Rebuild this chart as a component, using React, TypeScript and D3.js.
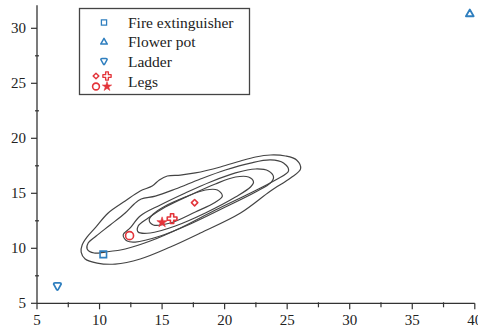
import { useEffect, useRef } from "react";
import * as d3 from "d3";

// axis ticks
const xTicks = [5, 10, 15, 20, 25, 30, 35, 40];
const xMinor = [7.5, 12.5, 17.5, 22.5, 27.5, 32.5, 37.5];
const yTicks = [5, 10, 15, 20, 25, 30];
const yMinor = [7.5, 12.5, 17.5, 22.5, 27.5];

// objects
const fireExtinguisher = [[10.3, 9.45]];
const flowerPot = [[39.6, 31.3]];
const ladder = [[6.63, 6.5]];
const legs = [
  { shape: "circle", x: 12.4, y: 11.15 },
  { shape: "star", x: 15.0, y: 12.36 },
  { shape: "cross", x: 15.8, y: 12.7 },
  { shape: "diamond", x: 17.6, y: 14.15 },
];

// density contours (outer -> inner)
const contour1 = [
  [26.07, 17.21], [25.75, 18.03], [24.87, 18.39], [23.67, 18.48], [22.47, 18.3],
  [21.27, 17.94], [19.66, 17.39], [17.66, 16.85], [16.46, 16.66], [15.42, 16.57],
  [14.78, 16.21], [14.21, 15.66], [13.25, 15.21], [12.05, 14.3], [10.69, 13.21],
  [9.65, 11.85], [9.01, 11.03], [8.61, 10.3], [8.53, 9.66], [8.85, 9.03],
  [9.81, 8.66], [11.25, 8.57], [13.25, 9.03], [15.66, 10.12], [18.06, 11.39],
  [21.27, 13.21], [23.67, 15.21], [25.27, 16.39],
];
const contour2 = [
  [25.11, 17.03], [24.71, 17.75], [23.67, 18.03], [22.07, 17.75], [20.06, 17.12],
  [18.06, 16.3], [16.06, 15.39], [14.46, 14.75], [13.33, 14.48], [12.77, 14.03],
  [12.05, 13.21], [10.85, 12.12], [9.73, 11.12], [9.09, 10.48], [9.01, 9.94],
  [9.57, 9.57], [10.45, 9.66], [12.05, 9.94], [14.05, 10.66], [16.46, 11.85],
  [19.26, 13.48], [22.07, 15.03], [24.07, 16.21],
];
const contour3 = [
  [23.91, 16.48], [23.51, 17.03], [22.47, 17.21], [20.87, 16.85], [18.86, 16.03],
  [16.86, 15.03], [14.86, 13.94], [13.25, 12.94], [12.45, 11.85], [11.89, 11.21],
  [12.21, 10.66], [12.85, 10.57], [14.86, 11.12], [17.26, 12.21], [20.06, 13.75],
  [22.47, 15.12], [23.67, 15.94],
];
const contour4 = [
  [22.31, 16.03], [21.91, 16.48], [20.87, 16.48], [19.26, 15.85], [17.26, 14.85],
  [15.26, 13.75], [13.89, 12.75], [13.09, 12.03], [13.09, 11.48], [14.05, 11.39],
  [16.06, 12.03], [18.46, 13.21], [20.87, 14.66], [22.07, 15.57],
];
const contour5 = [
  [19.82, 14.75], [19.42, 15.3], [18.46, 15.3], [16.86, 14.66], [15.26, 13.85],
  [14.3, 13.12], [13.97, 12.57], [14.3, 12.12], [15.66, 12.3], [17.66, 13.3],
  [19.26, 14.18],
];
const contours = [contour1, contour2, contour3, contour4, contour5];

const legendLabels = ["Fire extinguisher", "Flower pot", "Ladder", "Legs"];

const BLUE = "#2f7fbf";
const RED = "#e3343a";

function App() {
  const ref = useRef<SVGSVGElement>(null);

  useEffect(() => {
    document.body.style.margin = "0";
    const width = 478, height = 331;
    const svg = d3.select(ref.current);
    svg.selectAll("*").remove();

    const x = d3.scaleLinear().domain([5, 40]).range([37, 474.8]);
    const y = d3.scaleLinear().domain([5, 32.1]).range([303.3, 5.2]);

    const font = "'Liberation Serif', 'Times New Roman', serif";

    // contours
    const line = d3.line<number[]>()
      .x(d => x(d[0]))
      .y(d => y(d[1]))
      .curve(d3.curveCatmullRomClosed.alpha(0.5));

    svg.append("g")
      .selectAll("path")
      .data(contours)
      .enter()
      .append("path")
      .attr("d", d => line(d))
      .attr("fill", "none")
      .attr("stroke", "#444")
      .attr("stroke-width", 1.2);

    // axes
    const axisColor = "#333";
    const ax = svg.append("g");
    ax.append("line")
      .attr("x1", x(5)).attr("x2", x(40))
      .attr("y1", y(5)).attr("y2", y(5))
      .attr("stroke", axisColor).attr("stroke-width", 1.3);
    ax.append("line")
      .attr("x1", x(5)).attr("x2", x(5))
      .attr("y1", y(5)).attr("y2", y(32.1))
      .attr("stroke", axisColor).attr("stroke-width", 1.3);

    ax.selectAll(".xt").data(xTicks).enter().append("line")
      .attr("x1", d => x(d)).attr("x2", d => x(d))
      .attr("y1", y(5)).attr("y2", y(5) + 6)
      .attr("stroke", axisColor).attr("stroke-width", 1.2);
    ax.selectAll(".xm").data(xMinor).enter().append("line")
      .attr("x1", d => x(d)).attr("x2", d => x(d))
      .attr("y1", y(5) - 1).attr("y2", y(5) + 4)
      .attr("stroke", axisColor).attr("stroke-width", 1.2);
    ax.selectAll(".yt").data(yTicks).enter().append("line")
      .attr("x1", x(5) - 6).attr("x2", x(5))
      .attr("y1", d => y(d)).attr("y2", d => y(d))
      .attr("stroke", axisColor).attr("stroke-width", 1.2);
    ax.selectAll(".ym").data(yMinor).enter().append("line")
      .attr("x1", x(5) - 2).attr("x2", x(5) + 2)
      .attr("y1", d => y(d)).attr("y2", d => y(d))
      .attr("stroke", axisColor).attr("stroke-width", 1.2);

    ax.selectAll(".xl").data(xTicks).enter().append("text")
      .attr("x", d => x(d)).attr("y", y(5) + 22)
      .attr("text-anchor", "middle")
      .attr("font-family", font).attr("font-size", 15)
      .attr("fill", "#222")
      .text(d => d);
    ax.selectAll(".yl").data(yTicks).enter().append("text")
      .attr("x", x(5) - 11).attr("y", d => y(d) + 5)
      .attr("text-anchor", "end")
      .attr("font-family", font).attr("font-size", 15)
      .attr("fill", "#222")
      .text(d => d);

    // markers
    const sym = (type: d3.SymbolType, size: number) => d3.symbol().type(type).size(size)();
    const ladderPath = "M-3.8,-2.8 Q-3.8,-4 -2.4,-4 L2.4,-4 Q3.8,-4 3.8,-2.8 L0.6,3 Q0,3.8 -0.6,3 Z";

    const drawMarker = (g: any, shape: string, cx: number, cy: number, scale = 1) => {
      const t = `translate(${cx},${cy}) scale(${scale})`;
      if (shape === "square") {
        g.append("path").attr("d", sym(d3.symbolSquare, 42)).attr("transform", t)
          .attr("fill", "none").attr("stroke", BLUE).attr("stroke-width", 1.6);
      } else if (shape === "triangle") {
        g.append("path").attr("d", sym(d3.symbolTriangle, 26)).attr("transform", t)
          .attr("fill", "none").attr("stroke", BLUE).attr("stroke-width", 1.8)
          .attr("stroke-linejoin", "round");
      } else if (shape === "ladder") {
        g.append("path").attr("d", ladderPath).attr("transform", t)
          .attr("fill", "none").attr("stroke", BLUE).attr("stroke-width", 1.7)
          .attr("stroke-linejoin", "round");
      } else if (shape === "circle") {
        g.append("circle").attr("cx", cx).attr("cy", cy).attr("r", 4 * scale)
          .attr("fill", "none").attr("stroke", RED).attr("stroke-width", 1.6);
      } else if (shape === "star") {
        g.append("path").attr("d", sym(d3.symbolStar, 34)).attr("transform", t)
          .attr("fill", RED).attr("stroke", RED).attr("stroke-width", 0.6);
      } else if (shape === "cross") {
        g.append("path").attr("d", sym(d3.symbolCross, 52)).attr("transform", t)
          .attr("fill", "none").attr("stroke", RED).attr("stroke-width", 1.6)
          .attr("stroke-linejoin", "round");
      } else if (shape === "diamond") {
        g.append("path").attr("d", sym(d3.symbolSquare, 20)).attr("transform", t + " rotate(45)")
          .attr("fill", "none").attr("stroke", RED).attr("stroke-width", 1.6)
          .attr("stroke-linejoin", "round");
      }
    };

    const pts = svg.append("g");
    fireExtinguisher.forEach(d => drawMarker(pts, "square", x(d[0]), y(d[1])));
    flowerPot.forEach(d => drawMarker(pts, "triangle", x(d[0]), y(d[1])));
    ladder.forEach(d => drawMarker(pts, "ladder", x(d[0]), y(d[1])));
    legs.forEach(d => drawMarker(pts, d.shape, x(d.x), y(d.y)));

    // legend
    const lg = svg.append("g");
    lg.append("rect")
      .attr("x", 79.5).attr("y", 8.5).attr("width", 170).attr("height", 86)
      .attr("fill", "white").attr("stroke", "#444").attr("stroke-width", 1.3);
    const rowY = d3.scalePoint().domain(legendLabels).range([22.5, 81.5]);
    lg.selectAll("text").data(legendLabels).enter().append("text")
      .attr("x", 128).attr("y", d => (rowY(d) as number) + 5)
      .attr("font-family", font).attr("font-size", 15.5)
      .attr("fill", "#222")
      .text(d => d);
    drawMarker(lg, "square", 104, rowY("Fire extinguisher") as number, 0.8);
    drawMarker(lg, "triangle", 104, rowY("Flower pot") as number, 0.85);
    drawMarker(lg, "ladder", 104, rowY("Ladder") as number, 0.85);
    const ly = rowY("Legs") as number;
    drawMarker(lg, "diamond", 96, ly - 5.5, 0.9);
    drawMarker(lg, "cross", 107, ly - 5.5, 0.85);
    drawMarker(lg, "circle", 96, ly + 5, 0.85);
    drawMarker(lg, "star", 107, ly + 5, 0.9);

    svg.attr("width", width).attr("height", height);
  }, []);

  return <svg ref={ref} width={478} height={331} style={{ display: "block", background: "white" }} />;
}

export default App;
